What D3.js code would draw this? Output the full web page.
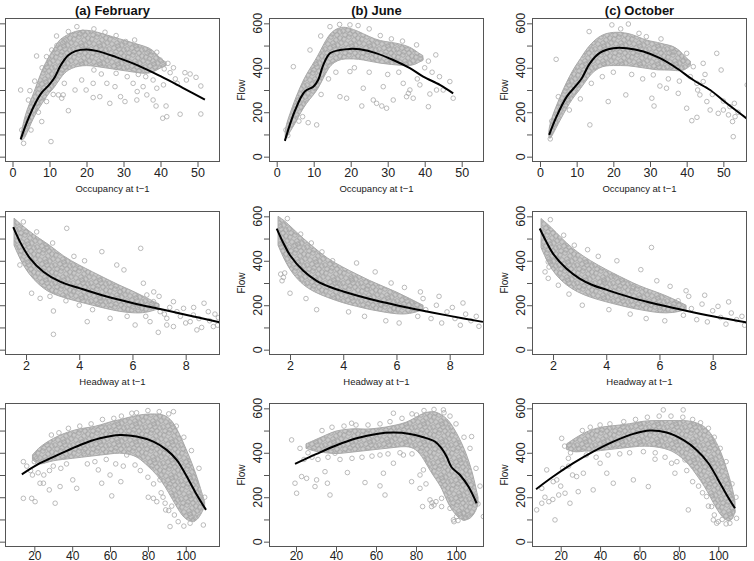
<!DOCTYPE html>
<html><head><meta charset="utf-8">
<script src="https://cdn.jsdelivr.net/npm/d3@7"></script>
<style>body{margin:0;background:#fff} svg{display:block}</style>
</head><body>
<svg id="c" width="754" height="561"></svg>
<script>
// ---------- tick labels ----------
const occTicks = [0,10,20,30,40,50];
const hwTicks = [2,4,6,8];
const row3Ticks = [20,40,60,80,100];
const flowTicks = [0,100,200,300,400,500,600];
const flowLabels = [0,200,400,600];
const titles = ["(a) February","(b) June","(c) October"];
const xLabels = ["Occupancy at t\u22121","Headway at t\u22121",""];

// ---------- (a) February ----------
const febOccLine = [[2.2,78],[4,160],[6,235],[8,290],[10,325],[11.5,360],[13,410],[15,455],[17,475],[20,482],[23,475],[28,448],[34,410],[40,362],[46,310],[52,257]];
const febOccCore = [[2.3,75,100],[3,75,160],[4,110,215],[5,150,255],[6,185,300],[7,215,345],[8,240,390],[9,265,425],[10,290,455],[11,305,480],[12,330,510],[13,355,530],[14,375,540],[15,390,550],[17,405,565],[19,410,570],[21,410,568],[23,405,560],[25,400,550],[27,395,540],[29,390,530],[31,385,520],[33,380,510],[35,375,500],[37,375,490],[38.5,385,470],[40,400,440],[41.5,410,425]];
const febOccPts = [[2.2,300],[6.5,453],[10.4,68],[15.1,207],[13.7,278],[19.9,300],[21.8,266],[23.6,270],[26.3,240],[29.2,270],[30.4,248],[33.6,255],[33.7,293],[36.3,278],[38,255],[38.8,228],[40.6,173],[41.7,180],[41.5,228],[45.3,191],[46.6,378],[48,372],[49.6,357],[50.9,318],[50.9,192],[42.6,378],[39.9,435],[36.9,473],[40.8,323],[39,308],[30.6,518],[17.4,585],[15.1,563],[11.9,543],[10.6,480],[9.2,450],[3.8,165],[4.7,297],[4.3,255],[7.9,158],[9.2,248],[12.4,278],[13.3,263],[16.9,300],[18.7,345],[21.8,330],[25.5,330],[27.7,315],[32.6,330],[35.3,315],[42,420],[43.5,400],[44,350],[41,395],[38,345],[36,360],[34,370],[31,360],[28,375],[24,372],[22,390],[19,560],[22,575],[25,560],[28,545],[33,525],[14,520],[12,500],[8,400],[6,340],[5,120],[3,60],[2.5,120],[7,200],[11,280],[14,330],[44.5,330],[47,345],[39,470],[37,440]];

const febHwLine = [[1.52,551],[1.77,486],[2.15,411],[2.65,351],[3.28,306],[4.03,276],[5.03,239],[6.03,209],[7.04,183],[8.04,156],[9.27,123]];
const febHwCore = [[1.55,470,592],[1.8,400,565],[2.1,340,535],[2.5,290,500],[2.9,255,470],[3.4,235,420],[4,215,380],[4.5,200,350],[5,185,320],[5.5,172,290],[6,165,265],[6.5,165,235],[7,185,205]];
const febHwPts = [[3.53,546],[6.31,456],[4.85,441],[5.41,381],[5.68,359],[6.41,299],[3.03,174],[3.03,69],[4.3,126],[5.16,141],[6.1,111],[6.97,78],[7.54,104],[8.42,89],[8.69,209],[8.85,171],[9.04,104],[9.23,144],[7.92,186],[8.17,126],[7.29,141],[6.66,126],[7.04,171],[7.67,171],[5.97,179],[6.54,246],[6.79,216],[7.54,216],[8.29,156],[7.29,111],[1.77,381],[2.21,254],[2.53,231],[2.78,456],[5.53,261],[4.78,216],[3.78,261],[6.9,200],[7.2,160],[7.8,150],[8.0,120],[8.5,140],[8.9,130],[9.1,160],[6.2,190],[6.5,150],[7.4,190],[5.8,150],[4.5,180],[4.0,200],[3.5,220],[2.9,240],[4.2,400],[3.8,420],[3.0,480],[2.4,530],[1.9,575],[6.8,260],[7.0,240],[8.3,190],[9.2,110],[8.6,100]];

const febR3Line = [[13.4,303],[23,353],[33.6,395],[44.2,435],[54.7,465],[65.3,480],[74.1,473],[82.9,450],[89.9,413],[95.2,368],[99.6,308],[104.9,225],[110.7,143]];
const febR3Core = [[19,370,390],[22,345,420],[26,355,445],[30,365,465],[35,370,485],[40,375,500],[45,380,510],[50,385,515],[55,390,525],[60,395,540],[65,400,548],[70,395,560],[75,380,570],[80,340,575],[85,300,575],[89,250,570],[93,190,545],[97,130,480],[100,100,420],[103,90,360],[106,95,290],[108.5,130,220],[110,160,180]];
const febR3Pts = [[14.2,360],[14.2,195],[18.6,195],[20.4,180],[23,263],[27.9,233],[31,173],[33.6,248],[42.4,240],[40.3,278],[53.8,323],[55.6,263],[60.9,206],[65.7,270],[60,300],[73.2,345],[71.5,578],[80.2,200],[82.9,195],[84.7,180],[89.1,173],[89.4,143],[91.7,68],[92.6,160],[93.5,585],[21.3,375],[24.8,263],[45.9,405],[68.8,390],[86.4,278],[107.5,203],[109.3,75],[102.3,83],[16,340],[18,320],[20,360],[19,300],[22,310],[25,300],[28,320],[30,340],[34,330],[37,350],[48,350],[52,360],[58,370],[63,350],[67,340],[76,320],[80,290],[83,260],[87,220],[29,480],[33,490],[38,510],[44,520],[50,530],[56,550],[62,555],[66,565],[74,580],[80,590],[86,585],[91,575],[95,520],[99,470],[103,410],[107,330],[110,200],[96,90],[99,70],[104,100],[94,120],[91,140],[88,200]];

// ---------- (b) June ----------
const junOccLine = [[2.2,71],[5,210],[7.6,293],[9.9,315],[11.2,345],[12.6,413],[14.4,465],[17.1,480],[19.8,485],[22.5,483],[27,465],[31.5,435],[36,398],[39.6,360],[44.1,323],[47.7,285]];
const junOccCore = [[2.3,90,110],[2.5,80,140],[3.5,110,190],[5,150,260],[6.5,200,320],[8,240,370],[9.5,270,410],[11,300,450],[12.5,350,500],[14,400,545],[15.5,425,570],[17.5,440,585],[19.5,440,580],[22,440,565],[25,430,540],[28,420,520],[31,415,515],[34,410,505],[36.5,410,490],[38,420,470],[39.5,435,455]];
const junOccPts = [[4.5,405],[10.8,143],[8.5,153],[17.1,270],[18.9,263],[23,228],[26.1,255],[27,240],[28.4,228],[29.7,218],[28.8,315],[31.5,255],[35.1,270],[35.6,285],[36.9,263],[38.7,323],[41,225],[41.4,282],[43.2,300],[43,458],[46.8,338],[47.7,263],[37.8,503],[34.2,330],[23.4,308],[19.8,383],[11.9,543],[14.4,585],[19.8,593],[9,480],[2.5,120],[3,95],[6,160],[7,180],[12,280],[14,350],[16,380],[21,400],[25,380],[30,370],[33,380],[40,400],[42,380],[44,360],[39,440],[41,430],[38,350],[45,300],[36,300],[22,590],[25,575],[28,545],[31,530],[34,520],[17,595]];

const junHwLine = [[1.5,545],[1.75,480],[2,425],[2.5,355],[3,310],[3.5,282],[4,262],[5,228],[6,200],[7,175],[8,152],[9.25,125]];
const junHwCore = [[1.55,470,600],[1.8,400,580],[2.1,340,545],[2.5,290,500],[2.9,260,460],[3.4,235,410],[4,210,370],[4.5,195,340],[5,180,310],[5.5,170,285],[6,160,260],[6.5,160,230],[7,180,200]];
const junHwPts = [[1.65,340],[1.7,310],[1.75,325],[1.8,345],[2,254],[2.2,470],[2.6,230],[3.0,180],[3.2,440],[3.6,400],[4.2,170],[4.5,390],[4.8,150],[5.2,350],[5.6,130],[5.8,300],[6.1,120],[6.3,280],[6.6,210],[6.8,150],[7.0,230],[7.1,180],[7.3,140],[7.5,200],[7.7,120],[7.9,170],[8.1,190],[8.2,140],[8.4,110],[8.6,160],[8.8,130],[9.0,150],[9.1,105],[6.9,260],[7.6,240],[8.5,210],[5.9,185],[5.4,205],[4.9,270],[4.3,320],[3.8,300],[2.4,520],[2.8,480],[1.9,590]];

const junR3Line = [[19.5,350],[30.3,395],[40.3,434],[50.3,465],[60.3,485],[68.7,491],[77,485],[83.7,470],[89.5,450],[92.8,420],[95.3,383],[97.8,335],[102,300],[106.2,248],[110.3,173]];
const junR3Core = [[25,420,440],[30,405,460],[35,400,480],[40,395,500],[45,400,505],[50,405,510],[55,410,505],[60,415,510],[65,420,515],[70,425,525],[75,430,535],[80,420,560],[84,370,580],[87,320,585],[90,280,585],[93,240,570],[96,170,550],[99,130,510],[102,100,460],[105,95,400],[108,110,320],[110,140,240],[111,170,200]];
const junR3Pts = [[17.8,458],[19.5,263],[20.3,218],[22.8,293],[25.3,285],[29.5,248],[30.3,278],[34.5,315],[35.7,263],[37,210],[45.7,311],[54.5,266],[62,251],[64.5,210],[63.7,308],[68.7,353],[77.8,270],[82,240],[83.3,158],[87,188],[87.8,158],[92.8,195],[92.8,158],[97,150],[98.7,98],[100.3,113],[103.7,128],[113.7,113],[107.8,473],[93.7,593],[80.3,570],[68.7,578],[47.8,533],[39.5,398],[73.7,390],[83.7,323],[24,370],[22,420],[26,400],[28,380],[31,370],[36,380],[42,370],[48,375],[53,380],[58,385],[62,390],[66,395],[72,400],[78,395],[82,300],[85,260],[88,175],[89,165],[90,180],[33,500],[38,515],[44,520],[50,525],[56,525],[62,530],[67,540],[73,555],[78,575],[84,590],[89,595],[94,580],[97,565],[100,530],[104,470],[107,420],[110,330],[112,250],[99,90],[101,95],[104,105],[106,120],[111,170]];

// ---------- (c) October ----------
const octOccLine = [[2.5,98],[4.5,180],[7.3,270],[10,323],[11.4,353],[13.6,420],[16.4,468],[20,488],[23.6,488],[28.2,473],[32.7,443],[37.3,398],[41.8,345],[46.4,300],[50.9,240],[56.5,170]];
const octOccCore = [[2.4,95,110],[2.6,75,140],[3.5,100,190],[5,150,250],[6.5,195,310],[8,240,360],[9.5,275,405],[11,305,440],[12.5,340,480],[14,375,510],[16,400,540],[18,410,555],[20,410,560],[22,410,560],[24,410,555],[26,405,545],[28,400,530],[30,395,520],[32,390,515],[34,390,505],[36,390,500],[38,385,480],[39.5,390,450],[41,410,430]];
const octOccPts = [[4.4,438],[13.4,563],[13.6,143],[18.6,248],[23.4,278],[19.6,593],[24.1,597],[30.5,263],[31.1,228],[32.7,318],[34.5,308],[37.7,285],[40,218],[41.4,162],[42.8,177],[43.6,278],[44.5,338],[45.5,248],[48.2,465],[48.6,195],[50,210],[51.4,188],[51.8,225],[52.7,90],[52.5,158],[53.2,180],[56.5,323],[41.8,405],[40,465],[44.5,420],[42.8,330],[46.4,210],[49.4,390],[30.9,368],[2.8,80],[3.2,160],[5,270],[8,210],[11,260],[14,330],[17,360],[20,380],[25,370],[28,350],[35,350],[38,340],[41,360],[43,300],[47,280],[50,250],[53,240],[54,200],[45,370],[39,430],[36,470],[33,530],[29,540],[27,555],[22,575]];

const octHwLine = [[1.5,545],[1.75,485],[2,432],[2.5,365],[3,320],[3.5,290],[4,270],[5,232],[6,202],[7,175],[8,150],[9.29,122]];
const octHwCore = [[1.55,460,590],[1.8,390,565],[2.1,335,530],[2.5,290,480],[2.9,260,440],[3.4,235,400],[4,215,360],[4.5,200,330],[5,185,300],[5.5,175,275],[6,165,255],[6.5,165,230],[7,180,200]];
const octHwPts = [[1.81,416],[1.82,395],[1.85,372],[1.82,321],[1.7,350],[2.2,290],[2.6,250],[3.1,200],[3.3,450],[3.7,420],[4.1,180],[4.4,400],[4.9,160],[5.3,360],[5.5,140],[5.9,310],[6.2,130],[6.4,285],[6.7,220],[6.9,155],[7.1,240],[7.2,185],[7.4,135],[7.6,205],[7.8,125],[8.0,175],[8.2,195],[8.3,145],[8.5,115],[8.7,165],[8.9,135],[9.1,150],[9.2,110],[7.0,265],[7.7,245],[8.6,215],[6.0,190],[5.6,210],[5.0,275],[4.3,330],[3.9,305],[2.4,515],[2.8,470],[1.9,585],[5.7,460]];

const octR3Line = [[7.5,236],[16.2,293],[26.4,353],[36.5,405],[46.7,450],[56.9,485],[65.3,500],[73.8,491],[82.2,458],[89,413],[95,353],[100,278],[104.3,210],[108.5,150]];
const octR3Core = [[23,415,440],[28,400,470],[32,410,490],[36,405,505],[40,410,515],[45,415,520],[50,420,525],[55,425,530],[60,430,540],[65,430,545],[70,425,545],[75,415,545],[80,390,545],[85,350,545],[89,300,535],[93,250,520],[96,200,490],[99,150,450],[102,110,390],[105,90,310],[107.5,100,230],[108.5,140,180]];
const octR3Pts = [[7.8,143],[10.4,173],[12.9,323],[16.2,270],[17.1,98],[20.5,465],[22.2,218],[23.9,375],[24.7,173],[28.1,293],[28.9,225],[31.5,308],[36.5,233],[40,353],[43.4,308],[46.7,263],[56.9,278],[64.5,248],[67.9,371],[72.1,593],[76.3,353],[78,308],[83.1,368],[84.8,143],[82.2,593],[94.1,203],[96.6,158],[97.5,98],[99.2,83],[105.9,83],[107.6,135],[109.3,105],[10.4,240],[18,278],[12,200],[14,180],[16,190],[19,210],[20,250],[21,330],[22,430],[24,340],[25,400],[26,300],[29,420],[33,390],[38,380],[44,390],[50,395],[55,400],[62,405],[68,400],[73,380],[79,360],[84,320],[87,270],[90,250],[92,220],[31,500],[35,515],[40,525],[45,530],[52,540],[58,550],[64,560],[70,565],[76,565],[82,560],[87,550],[91,535],[95,510],[98,470],[101,420],[104,360],[107,260],[109,200],[100,90],[102,100],[104,80],[98,120],[95,160]];

// ---------- layout ----------
const svg = d3.select("#c");
const colX = [5,269,532], rowY = [18,211,403], W = 215, H = 144;
const xDomains = [
  [[-2.03,56.08],[-2.08,56.03],[-2.18,56.45]],
  [[1.21,9.29],[1.21,9.29],[1.21,9.29]],
  [[4.5,118.1],[6.5,114],[5.43,114.6]]
];
const yDomain = [-24,624];
const rowTicks = [occTicks, hwTicks, row3Ticks];
const data = [
  [[febOccLine,febOccCore,febOccPts],[junOccLine,junOccCore,junOccPts],[octOccLine,octOccCore,octOccPts]],
  [[febHwLine,febHwCore,febHwPts],[junHwLine,junHwCore,junHwPts],[octHwLine,octHwCore,octHwPts]],
  [[febR3Line,febR3Core,febR3Pts],[junR3Line,junR3Core,junR3Pts],[octR3Line,octR3Core,octR3Pts]]
];
const FONT = "'Liberation Sans', Arial, Helvetica, sans-serif";
const PT = "#a9a9a9";

// texture that imitates the overplotted open circles (style only, fixed hand-placed motif)
const T = 18;
const motif = [[2,3],[7,1],[12,4],[16,2],[4,8],[9,7],[14,9],[1,13],[6,12],[11,13],[16,14],[3,17],[8,16],[13,17],[10,10],[17,7]];
const defs = svg.append("defs");
const pat = defs.append("pattern").attr("id", "cloud").attr("patternUnits", "userSpaceOnUse")
  .attr("width", T).attr("height", T);
pat.append("rect").attr("width", T).attr("height", T).attr("fill", "#c9c9c9");
motif.forEach(p => {
  [-T, 0, T].forEach(dx => [-T, 0, T].forEach(dy => {
    pat.append("circle").attr("cx", p[0] + dx).attr("cy", p[1] + dy)
      .attr("r", 2.3).attr("fill", "none").attr("stroke", "#a2a2a2").attr("stroke-width", 0.8);
  }));
});

for (let r = 0; r < 3; r++) {
  for (let c = 0; c < 3; c++) {
    const x0 = colX[c], y0 = rowY[r];
    const x = d3.scaleLinear().domain(xDomains[r][c]).range([x0, x0 + W]);
    const y = d3.scaleLinear().domain(yDomain).range([y0 + H, y0]);
    const [line, core, pts] = data[r][c];
    const id = "clip" + r + c;
    defs.append("clipPath").attr("id", id).append("rect")
      .attr("x", x0).attr("y", y0).attr("width", W).attr("height", H);
    const g = svg.append("g").attr("clip-path", `url(#${id})`);

    g.append("path").datum(core)
      .attr("d", d3.area().x(d => x(d[0])).y0(d => y(d[1])).y1(d => y(d[2])).curve(d3.curveBasis))
      .attr("fill", "url(#cloud)").attr("stroke", PT).attr("stroke-width", 1).attr("stroke-linejoin","round");

    g.selectAll("circle").data(pts).join("circle")
      .attr("cx", d => x(d[0])).attr("cy", d => y(d[1])).attr("r", 2.3)
      .attr("fill", "none").attr("stroke", PT).attr("stroke-width", 0.8);

    g.append("path").datum(line)
      .attr("d", d3.line().x(d => x(d[0])).y(d => y(d[1])).curve(d3.curveCatmullRom))
      .attr("fill", "none").attr("stroke", "#000").attr("stroke-width", 2);

    // box
    svg.append("rect").attr("x", x0 + 0.5).attr("y", y0 + 0.5).attr("width", W - 1).attr("height", H - 1)
      .attr("fill", "none").attr("stroke", "#555").attr("stroke-width", 1);

    // x axis
    const xa = svg.append("g").attr("transform", `translate(0,${y0 + H})`)
      .call(d3.axisBottom(x).tickValues(rowTicks[r]).tickSize(5).tickSizeOuter(0).tickPadding(r === 2 ? -1 : 1));
    xa.select(".domain").remove();
    xa.selectAll("line").attr("stroke", "#555");
    xa.selectAll("text").attr("font-family", FONT).attr("font-size", r === 2 ? 12 : 12.5).attr("fill", "#222");

    // y axis
    const ya = svg.append("g").attr("transform", `translate(${x0},0)`)
      .call(d3.axisLeft(y).tickValues(flowTicks).tickSize(5).tickSizeOuter(0).tickFormat(() => ""));
    ya.select(".domain").remove();
    ya.selectAll("line").attr("stroke", "#555");

    // the left column's y labels lie outside the cropped picture, as in the reference
    if (c > 0) {
      svg.append("g").selectAll("text").data(flowLabels).join("text")
        .attr("transform", d => `translate(${x0 - 11},${y(d)}) rotate(-90)`)
        .attr("text-anchor", "middle").attr("dominant-baseline", "central")
        .attr("font-family", FONT).attr("font-size", 12.5).attr("fill", "#222").text(d => d);

      svg.append("text")
        .attr("transform", `translate(${x0 - 28},${y0 + H / 2}) rotate(-90)`)
        .attr("text-anchor", "middle").attr("dominant-baseline", "central")
        .attr("font-family", FONT).attr("font-size", 10).attr("fill", "#222").text("Flow");
    }

    if (xLabels[r]) {
      svg.append("text").attr("x", x0 + W / 2).attr("y", y0 + H + 26)
        .attr("text-anchor", "middle").attr("dominant-baseline", "central")
        .attr("font-family", FONT).attr("font-size", 9.5).attr("fill", "#222").text(xLabels[r]);
    }
    if (r === 0) {
      svg.append("text").attr("x", x0 + W / 2).attr("y", 10)
        .attr("text-anchor", "middle").attr("dominant-baseline", "central")
        .attr("font-family", FONT).attr("font-size", 13).attr("font-weight", "bold").attr("fill", "#111").text(titles[c]);
    }
  }
}
</script>
</body></html>
